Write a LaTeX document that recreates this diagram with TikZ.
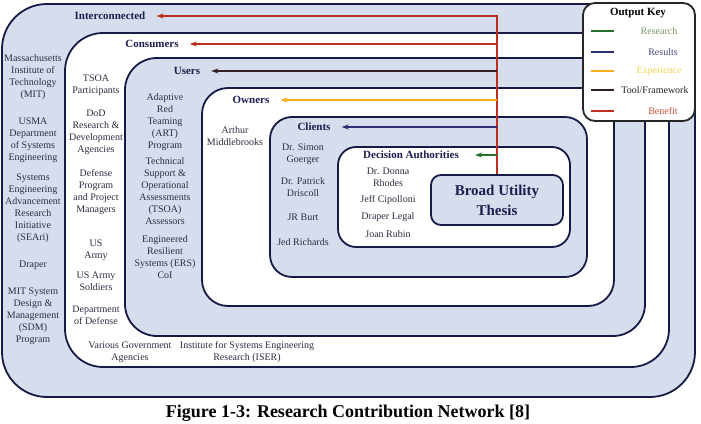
\documentclass[tikz,border=0pt]{standalone}
\usepackage{fontspec}
\setmainfont{Liberation Serif}
\usetikzlibrary{arrows.meta,positioning,calc}
\definecolor{Edge}{RGB}{24,26,70}
\definecolor{Band}{RGB}{214,222,238}
\definecolor{Hdr}{RGB}{28,30,80}
\definecolor{Ink}{RGB}{45,45,65}
\definecolor{RES}{RGB}{40,110,45}
\definecolor{RSL}{RGB}{45,45,115}
\definecolor{EXP}{RGB}{245,175,30}
\definecolor{TOOL}{RGB}{50,30,35}
\definecolor{BEN}{RGB}{190,45,30}
\definecolor{RESt}{RGB}{120,150,100}
\definecolor{RSLt}{RGB}{70,70,130}
\definecolor{EXPt}{RGB}{245,210,80}
\definecolor{TOOLt}{RGB}{40,30,30}
\definecolor{BENt}{RGB}{200,80,50}
\tikzset{
  band/.style={draw=Edge,line width=1.8pt,fill=Band},
  gap/.style={draw=Edge,line width=1.8pt,fill=white},
  hdr/.style={font=\bfseries\fontsize{11}{13}\selectfont,text=Hdr,inner sep=1pt},
  ent/.style={font=\fontsize{10}{12}\selectfont,align=center,text=Ink,inner sep=1pt},
  outarr/.style={-{Stealth[length=7pt,width=5pt]},line width=1.8pt,shorten >=10pt},
  keyln/.style={line width=1.8pt},
  keytx/.style={font=\fontsize{10}{12}\selectfont,inner sep=1pt}
}

\begin{document}
\begin{tikzpicture}[x=1pt,y=-1pt]
\useasboundingbox[fill=white] (0,0) rectangle (701,423);
% nested levels, outermost first
\draw[band,rounded corners=45pt] (2,4) rectangle (695,397);
\draw[gap,rounded corners=38pt] (65,33) rectangle (669,367);
\draw[band,rounded corners=32pt] (125,58) rectangle (645,336);
\draw[gap,rounded corners=26pt] (202,88) rectangle (614,306);
\draw[band,rounded corners=22pt] (270,117) rectangle (587,277);
\draw[gap,rounded corners=18pt] (338,147) rectangle (570,247);
\node[band,rounded corners=10pt,minimum width=132pt,minimum height=50pt,inner sep=0pt,
  align=center,text=Hdr,font=\bfseries\fontsize{15}{20}\selectfont] (thesis) at (497,200) {Broad Utility\\ Thesis};
% output key
\node[draw=black!85,line width=1.8pt,fill=white,rounded corners=12pt,minimum width=112pt,minimum height=118pt] (key) at (639,62) {};
\node[hdr,text=black] (keyhd) at (638,13) {Output Key};
\node[keytx,text=RESt] (kres) at (659,31) {Research};
\node[keytx,text=RSLt] (krsl) at (663,52) {Results};
\node[keytx,text=EXPt] (kexp) at (659,71) {Experience};
\node[keytx,text=TOOLt] (ktool) at (655,90) {Tool/Framework};
\node[keytx,text=BENt] (kben) at (663,111) {Benefit};
\draw[keyln,draw=RES] (591,31) -- (614,31);
\draw[keyln,draw=RSL] (591,52) -- (614,52);
\draw[keyln,draw=EXP] (591,71) -- (614,71);
\draw[keyln,draw=TOOL] (591,90) -- (614,90);
\draw[keyln,draw=BEN] (591,111) -- (614,111);
% level headings
\node[hdr] (inter) at (110,16) {Interconnected};
\node[hdr] (cons) at (152,44) {Consumers};
\node[hdr] (users) at (187,71) {Users};
\node[hdr] (owners) at (251,100) {Owners};
\node[hdr] (clients) at (314,127) {Clients};
\node[hdr] (dauth) at (411,155) {Decision Authorities};
% outputs of the thesis
\coordinate (redtop) at (thesis.north |- inter.east);
\draw[outarr,draw=BEN] (thesis.north) -- (redtop) -- (inter.east);
\draw[outarr,draw=BEN] (thesis.north |- cons.east) -- (cons.east);
\draw[outarr,draw=TOOL] (thesis.north |- users.east) -- (users.east);
\draw[outarr,draw=EXP] (thesis.north |- owners.east) -- (owners.east);
\draw[outarr,draw=RSL] (thesis.north |- clients.east) -- (clients.east);
\draw[outarr,draw=RES,shorten >=15pt] (thesis.north |- dauth.east) -- (dauth.east);
% interconnected
\node[ent] (mit) at (33,77) {Massachusetts\\ Institute of\\ Technology\\ (MIT)};
\node[ent] (usma) at (33,140) {USMA\\ Department\\ of Systems\\ Engineering};
\node[ent] (seari) at (33,208) {Systems\\ Engineering\\ Advancement\\ Research\\ Initiative\\ (SEAri)};
\node[ent] (draper) at (33,265) {Draper};
\node[ent] (sdm) at (33,316) {MIT System\\ Design \&\\ Management\\ (SDM)\\ Program};
% consumers
\node[ent] (tsoap) at (96,85) {TSOA\\ Participants};
\node[ent] (dodrd) at (96,132) {DoD\\ Research \&\\ Development\\ Agencies};
\node[ent] (dppm) at (96,192) {Defense\\ Program\\ and Project\\ Managers};
\node[ent] (army) at (96,250) {US\\ Army};
\node[ent] (soldiers) at (96,281) {US Army\\ Soldiers};
\node[ent] (dod) at (96,315) {Department\\ of Defense};
\node[ent] (vga) at (130,352) {Various Government\\ Agencies};
\node[ent] (iser) at (247,352) {Institute for Systems Engineering\\ Research (ISER)};
% users
\node[ent] (art) at (165,122) {Adaptive\\ Red\\ Teaming\\ (ART)\\ Program};
\node[ent] (tsoaa) at (165,191) {Technical\\ Support \&\\ Operational\\ Assessments\\ (TSOA)\\ Assessors};
\node[ent] (ers) at (165,257) {Engineered\\ Resilient\\ Systems (ERS)\\ CoI};
% owners
\node[ent] (arthur) at (235,136) {Arthur\\ Middlebrooks};
% clients
\node[ent] (goerger) at (303,154) {Dr. Simon\\ Goerger};
\node[ent] (driscoll) at (303,187) {Dr. Patrick\\ Driscoll};
\node[ent] (burt) at (303,217) {JR Burt};
\node[ent] (richards) at (303,242) {Jed Richards};
% decision authorities
\node[ent] (rhodes) at (388,177) {Dr. Donna\\ Rhodes};
\node[ent] (cipolloni) at (388,200) {Jeff Cipolloni};
\node[ent] (legal) at (388,217) {Draper Legal};
\node[ent] (rubin) at (388,234) {Joan Rubin};
% caption
\node[anchor=base,inner sep=0pt,font=\bfseries\fontsize{18}{22}\selectfont] (caption) at (348,417.5) {Figure 1-3: Research Contribution Network [8]};
\end{tikzpicture}
\end{document}
